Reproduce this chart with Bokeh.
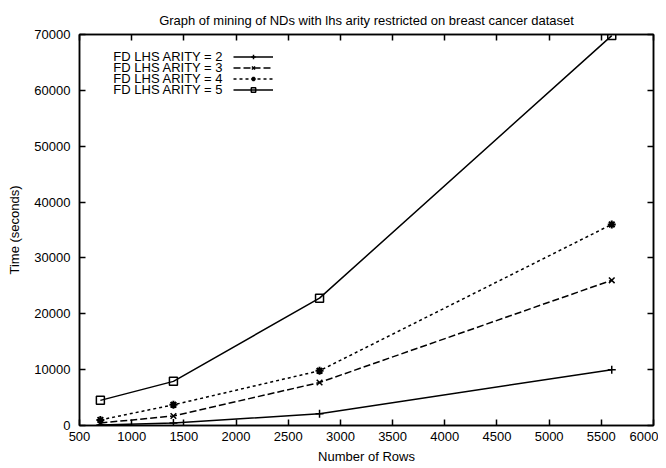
from bokeh.plotting import figure
from bokeh.models import (Range1d, LinearAxis, FixedTicker, Legend, LegendItem,
                          Label, BasicTickFormatter)
from bokeh.embed import file_html
from bokeh.resources import INLINE

rows = [700, 1400, 2800, 5600]
arity2 = [100, 450, 2100, 10000]
arity3 = [450, 1700, 7700, 26000]
arity4 = [1000, 3700, 9800, 36000]
arity5 = [4500, 7900, 22800, 69800]
series_labels = ["FD LHS ARITY = 2", "FD LHS ARITY = 3", "FD LHS ARITY = 4", "FD LHS ARITY = 5"]
title_text = "Graph of mining of NDs with lhs arity restricted on breast cancer dataset"
x_ticks = list(range(500, 6001, 500))
y_ticks = list(range(0, 70001, 10000))

FONT = "Liberation Sans"
FS = "13px"

p = figure(width=658, height=468, output_backend="svg", toolbar_location=None,
           x_range=Range1d(500, 6000), y_range=Range1d(0, 70000),
           min_border_left=79, min_border_right=5, min_border_top=34, min_border_bottom=43,
           title=title_text)
p.title.align = "center"
p.title.text_font = FONT
p.title.text_font_style = "normal"
p.title.text_font_size = FS
p.title.text_color = "black"
p.title.standoff = 14

p.xgrid.visible = False
p.ygrid.visible = False
p.outline_line_color = "black"
p.outline_line_width = 1.5

for ax in (p.xaxis[0], p.yaxis[0]):
    ax.major_tick_in = 6
    ax.major_tick_out = 0
    ax.minor_tick_line_color = None
    ax.axis_line_color = "black"
    ax.axis_line_width = 1.5
    ax.major_tick_line_color = "black"
    ax.major_tick_line_width = 1.5
    ax.major_label_text_font = FONT
    ax.major_label_text_font_size = FS
    ax.major_label_text_color = "black"
    ax.axis_label_text_font = FONT
    ax.axis_label_text_font_size = FS
    ax.axis_label_text_font_style = "normal"
    ax.axis_label_text_color = "black"
    ax.formatter = BasicTickFormatter(use_scientific=False)

p.xaxis[0].ticker = FixedTicker(ticks=x_ticks)
p.yaxis[0].ticker = FixedTicker(ticks=y_ticks)
p.xaxis[0].axis_label = "Number of Rows"
p.yaxis[0].axis_label = "Time (seconds)"
p.xaxis[0].major_label_standoff = 6
p.yaxis[0].major_label_standoff = 9
p.xaxis[0].axis_label_standoff = 5
p.yaxis[0].axis_label_standoff = 9

for loc, tk in (("right", y_ticks), ("above", x_ticks)):
    ax = LinearAxis(ticker=FixedTicker(ticks=tk), major_tick_in=6, major_tick_out=0,
                    minor_tick_line_color=None, major_label_text_alpha=0,
                    major_label_text_font_size="1px",
                    major_label_overrides={t: "" for t in tk},
                    major_label_standoff=0, axis_line_color="black",
                    axis_line_width=1.5, major_tick_line_width=1.5)
    p.add_layout(ax, loc)

styles = [
    (arity2, "solid", "cross", 1.5),
    (arity3, "7 3", "x", 1.5),
    (arity4, "3 3", "asterisk", 2.0),
    (arity5, "solid", "square", 1.5),
]
items = []
for ys, dash, marker, mlw in styles:
    l = p.line(rows, ys, line_color="black", line_width=1.5, line_dash=dash)
    m = p.scatter(rows, ys, marker=marker, size=8, line_color="black",
                  fill_color=None, line_width=mlw)
    items.append(LegendItem(label=" ", renderers=[l, m]))

ROW0 = 369
ROWH = 11
legend = Legend(items=items, location=(154, ROW0 - 3 * ROWH - ROWH / 2), orientation="vertical",
                glyph_width=40, glyph_height=ROWH, label_height=ROWH, label_width=1,
                label_standoff=0, padding=0, margin=0, spacing=0,
                border_line_color=None, background_fill_alpha=0,
                label_text_font_size="8px")
p.add_layout(legend, "center")

for i, txt in enumerate(series_labels):
    p.add_layout(Label(x=144, y=ROW0 - ROWH * i, x_units="screen", y_units="screen",
                       text=txt, text_align="right", text_baseline="middle",
                       text_font=FONT, text_font_size=FS, text_color="black"))

open("out.html", "w").write(file_html(p, INLINE))
